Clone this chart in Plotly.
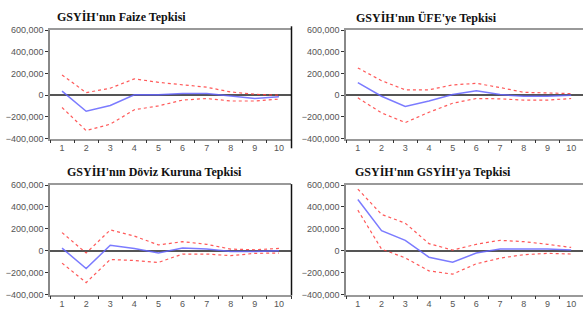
import plotly.graph_objects as go

W, H = 583, 315
periods = [str(i) for i in range(1, 11)]

titles = ["GSYİH'nın Faize Tepkisi", "GSYİH'nın ÜFE'ye Tepkisi",
          "GSYİH'nın Döviz Kuruna Tepkisi", "GSYİH'nın GSYİH'ya Tepkisi"]

faiz_resp = [38000, -148000, -95000, 5000, 5000, 15000, 15000, -10000, -30000, -15000]
faiz_upper = [187000, 24000, 65000, 151000, 119000, 95000, 74000, 30000, 9000, 0]
faiz_lower = [-113000, -326000, -267000, -134000, -98000, -45000, -30000, -53000, -53000, -36000]

ufe_resp = [116000, -9000, -104000, -53000, 6000, 42000, 6000, -9000, -9000, 0]
ufe_upper = [252000, 134000, 50000, 50000, 95000, 110000, 71000, 27000, 21000, 15000]
ufe_lower = [-24000, -163000, -252000, -157000, -74000, -30000, -33000, -45000, -45000, -30000]

doviz_resp = [24000, -163000, 50000, 21000, -21000, 24000, 15000, -6000, -6000, 0]
doviz_upper = [166000, -21000, 190000, 134000, 53000, 83000, 59000, 15000, 9000, 21000]
doviz_lower = [-113000, -291000, -80000, -89000, -107000, -30000, -30000, -45000, -24000, -21000]

gsyih_resp = [469000, 184000, 95000, -59000, -104000, -21000, 15000, 15000, 15000, 6000]
gsyih_upper = [564000, 332000, 252000, 65000, 6000, 59000, 95000, 83000, 59000, 30000]
gsyih_lower = [371000, 15000, -65000, -184000, -214000, -119000, -68000, -36000, -24000, -30000]

y_ticks = [-400000, -200000, 0, 200000, 400000, 600000]

panels = [
    (faiz_resp, faiz_upper, faiz_lower),
    (ufe_resp, ufe_upper, ufe_lower),
    (doviz_resp, doviz_upper, doviz_lower),
    (gsyih_resp, gsyih_upper, gsyih_lower),
]

# pixel layout: (x0, x1, ytop, ybottom)
boxes = [(50, 291, 26, 138), (346, 583, 26, 138), (50, 291, 186, 299), (346, 583, 186, 299)]
title_pos = [(121, 12), (426, 13), (154, 172), (433, 172)]

def px(x):
    return x / W

def py(y):
    return 1 - y / H

fig = go.Figure()
layout = dict(width=W, height=H, margin=dict(l=0, r=0, t=0, b=0),
              paper_bgcolor="white", plot_bgcolor="white", showlegend=False)

annotations = []
shapes = []
for i, ((resp, up, lo), (x0, x1, yt, yb)) in enumerate(zip(panels, boxes)):
    n = i + 1
    xa = "x" if n == 1 else f"x{n}"
    ya = "y" if n == 1 else f"y{n}"
    fig.add_trace(go.Scatter(x=periods, y=up, mode="lines", xaxis=xa, yaxis=ya,
                             line=dict(color="rgba(255,60,60,0.85)", width=1.2, dash="dot")))
    fig.add_trace(go.Scatter(x=periods, y=lo, mode="lines", xaxis=xa, yaxis=ya,
                             line=dict(color="rgba(255,60,60,0.85)", width=1.2, dash="dot")))
    fig.add_trace(go.Scatter(x=periods, y=resp, mode="lines", xaxis=xa, yaxis=ya,
                             line=dict(color="rgba(100,100,255,0.85)", width=1.5)))
    xkey = "xaxis" if n == 1 else f"xaxis{n}"
    ykey = "yaxis" if n == 1 else f"yaxis{n}"
    layout[xkey] = dict(domain=[px(x0), px(x1)], anchor=ya, type="category",
                        categoryorder="array", categoryarray=periods,
                        tickson="boundaries", ticks="outside", ticklen=3,
                        tickcolor="#333", showline=True, linecolor="#999", linewidth=1.5,
                        mirror=True, showgrid=False, zeroline=False,
                        tickfont=dict(family="Arial", size=9, color="#555"),
                        range=[-0.5, 9.5], fixedrange=True)
    layout[ykey] = dict(domain=[py(yb), py(yt)], anchor=xa, range=[-400000, 600000],
                        tickvals=y_ticks, tickformat=",d", ticks="outside", ticklen=3,
                        tickcolor="#333", showline=True, linecolor="#888", linewidth=1.5,
                        showgrid=False, zeroline=True, zerolinecolor="#555",
                        zerolinewidth=1.5,
                        tickfont=dict(family="Arial", size=9, color="#555"),
                        fixedrange=True)
    tx, ty = title_pos[i]
    annotations.append(dict(text="<b>" + titles[i] + "</b>", x=px(tx), y=py(ty),
                            xref="paper", yref="paper", showarrow=False,
                            xanchor="center", yanchor="middle",
                            font=dict(family="Liberation Serif", size=12, color="#111")))

# dark right border of the left panels
shapes.append(dict(type="line", xref="paper", yref="paper", x0=px(291.5), x1=px(291.5),
                   y0=py(148), y1=py(22), line=dict(color="#111", width=1.5)))
shapes.append(dict(type="line", xref="paper", yref="paper", x0=px(291.5), x1=px(291.5),
                   y0=py(300), y1=py(185), line=dict(color="#111", width=1.5)))

layout["annotations"] = annotations
layout["shapes"] = shapes
fig.update_layout(**layout)
fig.write_html("out.html", config={"displayModeBar": False},
               post_script="document.body.style.margin='0';document.body.style.overflow='hidden';")
